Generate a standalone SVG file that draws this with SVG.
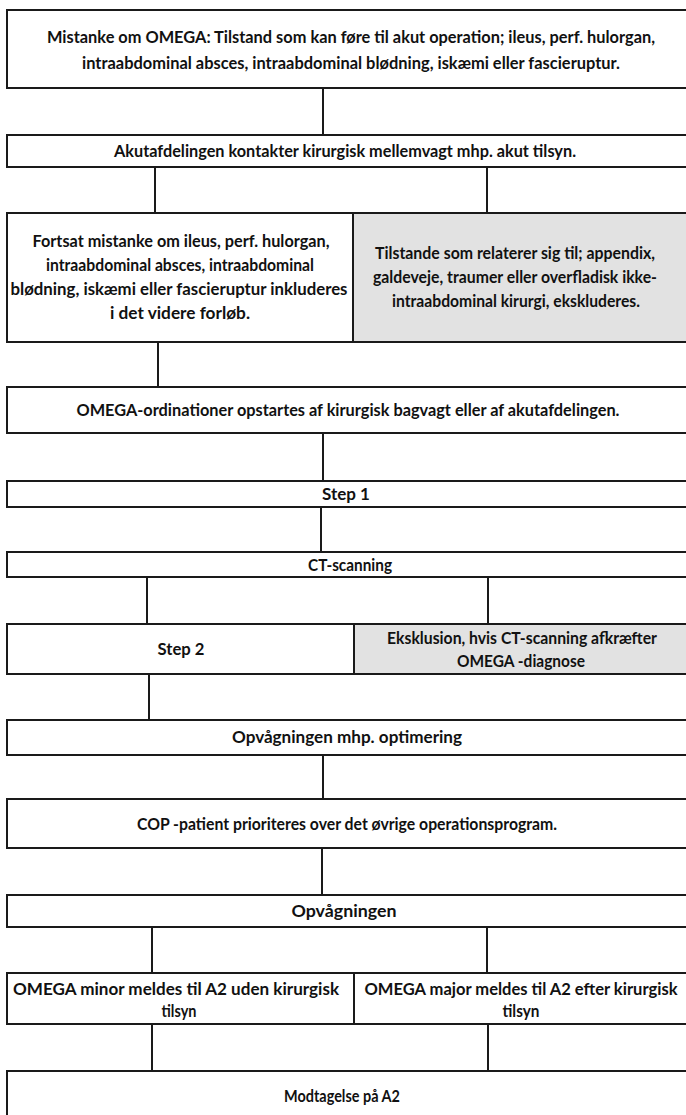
<svg xmlns="http://www.w3.org/2000/svg" width="686" height="1115" viewBox="0 0 686 1115">
<style>
.box{fill:#ffffff;stroke:#1a1a1a;stroke-width:2}
.gray{fill:#e2e2e2;stroke:#1a1a1a;stroke-width:2}
.con{stroke:#1a1a1a;stroke-width:2;fill:none}
text{font-family:Lato,"Liberation Sans",sans-serif;font-weight:bold;font-size:17px;fill:#111111;text-anchor:middle}
</style>
<rect width="686" height="1115" fill="#ffffff"/>
<g id="connectors">
<line class="con" x1="323" y1="88" x2="323" y2="135"/>
<line class="con" x1="155" y1="167" x2="155" y2="213"/>
<line class="con" x1="487" y1="167" x2="487" y2="213"/>
<line class="con" x1="158" y1="342" x2="158" y2="387"/>
<line class="con" x1="323" y1="433" x2="323" y2="481"/>
<line class="con" x1="321" y1="507" x2="321" y2="552"/>
<line class="con" x1="147" y1="577" x2="147" y2="624"/>
<line class="con" x1="488" y1="577" x2="488" y2="624"/>
<line class="con" x1="149" y1="674" x2="149" y2="720"/>
<line class="con" x1="323" y1="755" x2="323" y2="799"/>
<line class="con" x1="322" y1="848" x2="322" y2="895"/>
<line class="con" x1="152" y1="927" x2="152" y2="973"/>
<line class="con" x1="487" y1="927" x2="487" y2="973"/>
<line class="con" x1="152" y1="1024" x2="152" y2="1071"/>
<line class="con" x1="488" y1="1024" x2="488" y2="1071"/>
</g>
<g id="n1">
<rect class="box" x="7" y="10" width="682" height="78"/>
<text x="351" y="43" textLength="608" lengthAdjust="spacingAndGlyphs">Mistanke om OMEGA: Tilstand som kan føre til akut operation; ileus, perf. hulorgan,</text>
<text x="351" y="69" textLength="538" lengthAdjust="spacingAndGlyphs">intraabdominal absces, intraabdominal blødning, iskæmi eller fascieruptur.</text>
</g>
<g id="n2">
<rect class="box" x="7" y="135" width="682" height="32"/>
<text x="345" y="157" textLength="462" lengthAdjust="spacingAndGlyphs">Akutafdelingen kontakter kirurgisk mellemvagt mhp. akut tilsyn.</text>
</g>
<g id="n3a">
<rect class="box" x="7" y="213" width="346" height="129"/>
<text x="181" y="247" textLength="297" lengthAdjust="spacingAndGlyphs">Fortsat mistanke om ileus, perf. hulorgan,</text>
<text x="180" y="271" textLength="268" lengthAdjust="spacingAndGlyphs">intraabdominal absces, intraabdominal</text>
<text x="179" y="295" textLength="337" lengthAdjust="spacingAndGlyphs">blødning, iskæmi eller fascieruptur inkluderes</text>
<text x="180" y="319" textLength="140" lengthAdjust="spacingAndGlyphs">i det videre forløb.</text>
</g>
<g id="n3b">
<rect class="gray" x="353" y="213" width="336" height="129"/>
<text x="515" y="259" textLength="280" lengthAdjust="spacingAndGlyphs">Tilstande som relaterer sig til; appendix,</text>
<text x="515" y="283" textLength="284" lengthAdjust="spacingAndGlyphs">galdeveje, traumer eller overfladisk ikke-</text>
<text x="516" y="307" textLength="248" lengthAdjust="spacingAndGlyphs">intraabdominal kirurgi, ekskluderes.</text>
</g>
<g id="n4">
<rect class="box" x="7" y="387" width="682" height="46"/>
<text x="348" y="416" textLength="543" lengthAdjust="spacingAndGlyphs">OMEGA-ordinationer opstartes af kirurgisk bagvagt eller af akutafdelingen.</text>
</g>
<g id="n5">
<rect class="box" x="7" y="481" width="682" height="26"/>
<text x="346" y="500" textLength="48" lengthAdjust="spacingAndGlyphs">Step 1</text>
</g>
<g id="n6">
<rect class="box" x="7" y="552" width="682" height="25"/>
<text x="350" y="571" textLength="84" lengthAdjust="spacingAndGlyphs">CT-scanning</text>
</g>
<g id="n7a">
<rect class="box" x="7" y="624" width="347" height="50"/>
<text x="181" y="655" textLength="47" lengthAdjust="spacingAndGlyphs">Step 2</text>
</g>
<g id="n7b">
<rect class="gray" x="354" y="624" width="335" height="50"/>
<text x="522" y="644" textLength="270" lengthAdjust="spacingAndGlyphs">Eksklusion, hvis CT-scanning afkræfter</text>
<text x="521" y="667" textLength="128" lengthAdjust="spacingAndGlyphs">OMEGA -diagnose</text>
</g>
<g id="n8">
<rect class="box" x="7" y="720" width="682" height="35"/>
<text x="347" y="743" textLength="230" lengthAdjust="spacingAndGlyphs">Opvågningen mhp. optimering</text>
</g>
<g id="n9">
<rect class="box" x="7" y="799" width="682" height="49"/>
<text x="347" y="830" textLength="420" lengthAdjust="spacingAndGlyphs">COP -patient prioriteres over det øvrige operationsprogram.</text>
</g>
<g id="n10">
<rect class="box" x="7" y="895" width="682" height="32"/>
<text x="344" y="917" textLength="105" lengthAdjust="spacingAndGlyphs">Opvågningen</text>
</g>
<g id="n11a">
<rect class="box" x="7" y="973" width="347" height="51"/>
<text x="176" y="995" textLength="326" lengthAdjust="spacingAndGlyphs">OMEGA minor meldes til A2 uden kirurgisk</text>
<text x="179" y="1017" textLength="35" lengthAdjust="spacingAndGlyphs">tilsyn</text>
</g>
<g id="n11b">
<rect class="box" x="354" y="973" width="335" height="51"/>
<text x="521" y="995" textLength="313" lengthAdjust="spacingAndGlyphs">OMEGA major meldes til A2 efter kirurgisk</text>
<text x="521" y="1017" textLength="37" lengthAdjust="spacingAndGlyphs">tilsyn</text>
</g>
<g id="n12">
<rect class="box" x="7" y="1071" width="682" height="60"/>
<text x="342" y="1102" textLength="116" lengthAdjust="spacingAndGlyphs">Modtagelse på A2</text>
</g>
</svg>
